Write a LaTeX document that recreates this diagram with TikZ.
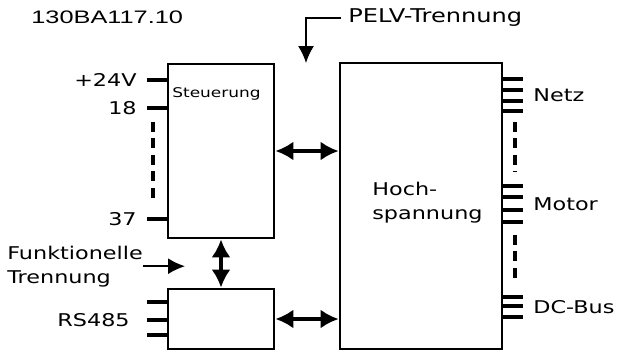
\documentclass[tikz,border=0pt]{standalone}
\usepackage{fontspec}
\setmainfont{DejaVu Sans}[FakeStretch=1.27]
\newfontfamily\codefont{Liberation Sans}[FakeStretch=1.4]
\usetikzlibrary{arrows.meta, positioning}

\begin{document}
\begin{tikzpicture}[x=0.02cm, y=-0.02cm, font=\fontsize{10}{13.6}\selectfont,
    blk/.style={draw, line width=1.5pt, minimum width=2.12cm, inner sep=0pt},
    lbl/.style={inner xsep=0.2cm, inner ysep=0pt},
    stub/.style={line width=1.9pt},
    dots/.style={line width=1.8pt, dash pattern=on 0.2cm off 0.13cm},
    dblarrow/.style={{Latex[length=0.36cm,width=0.38cm]}-{Latex[length=0.36cm,width=0.38cm]}, line width=2.5pt},
    thinarrow/.style={-{Latex[length=0.34cm,width=0.32cm]}, line width=0.9pt}
]
\useasboundingbox (0,0) rectangle (620,352);
% drawing number
\node[anchor=base west, inner sep=0pt, font=\codefont\fontsize{10.3}{12}\selectfont] (docid) at (31,23) {130BA117.10};
% blocks
\node[blk, minimum height=3.48cm] (steu) at (221,151) {};
\node[blk, minimum height=1.2cm] (rs) at (221,319) {};
\node[blk, minimum width=3.24cm, minimum height=5.72cm] (hoch) at (421,206) {};
\node[anchor=base west, inner sep=0pt, font=\fontsize{7.6}{9}\selectfont] (steutxt) at (172,97) {Steuerung};
\node[anchor=base west, inner sep=0pt, align=left] (hochtxt) at (372,219) {Hoch-\\spannung};
% control terminals
\node[lbl, anchor=east] (l24) at (147,80) {+24V};
\node[lbl, anchor=east] (l18) at (147,108) {18};
\node[lbl, anchor=east] (l37) at (147,219) {37};
\foreach \t in {l24,l18,l37} \draw[stub] (\t.east) -- (\t.east -| steu.west);
\draw[dots] (153,122) -- (153,201);
% RS485 terminals
\node[lbl, inner xsep=0.34cm, anchor=east] (lrs) at (147,320) {RS485};
\foreach \yy in {302,320,335} \draw[stub] (lrs.east |- 0,\yy) -- (rs.west |- 0,\yy);
% power terminals
\node[lbl, anchor=west] (netz) at (523,95) {Netz};
\node[lbl, anchor=west] (motor) at (523,204) {Motor};
\node[lbl, anchor=west] (dcbus) at (523,307) {DC-Bus};
\foreach \yy in {79,90,101,111} \draw[stub] (hoch.east |- 0,\yy) -- (netz.west |- 0,\yy);
\foreach \yy in {186,197,210,222} \draw[stub] (hoch.east |- 0,\yy) -- (motor.west |- 0,\yy);
\foreach \yy in {297,306,317} \draw[stub, line width=2.3pt] (hoch.east |- 0,\yy) -- (dcbus.west |- 0,\yy);
\draw[dots] (515,122) -- (515,172);
\draw[dots] (515,235) -- (515,283);
% links
\draw[dblarrow] (steu.east) -- (steu.east -| hoch.west);
\draw[dblarrow] (steu.south) -- (rs.north);
\draw[dblarrow] (rs.east) -- (rs.east -| hoch.west);
% isolation notes
\node[anchor=west, inner xsep=0.14cm, inner ysep=0pt, font=\fontsize{10.8}{13}\selectfont] (pelv) at (341,18) {PELV-Trennung};
\coordinate (pelvtip) at (306,63);
\draw[thinarrow] (pelv.west) -| (pelvtip);
\node[anchor=base west, inner sep=0pt, align=left] (funk) at (7,283) {Funktionelle\\Trennung};
\coordinate (funktip) at (185,265);
\draw[thinarrow] (funk.east) -- (funk.east -| funktip);
\end{tikzpicture}
\end{document}
